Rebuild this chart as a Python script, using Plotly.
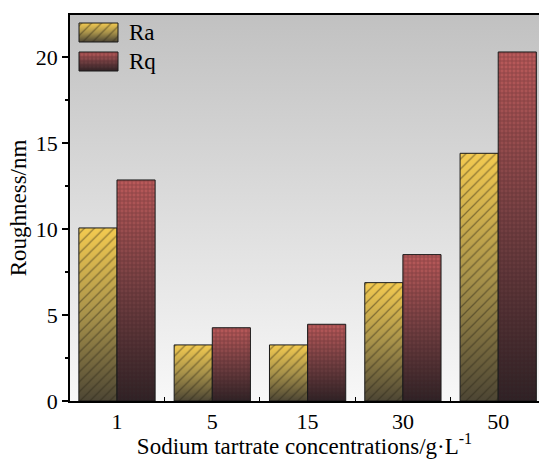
import plotly.graph_objects as go

categories = ["1", "5", "15", "30", "50"]
ra_values = [10.06, 3.26, 3.26, 6.88, 14.40]
rq_values = [12.85, 4.26, 4.46, 8.51, 20.29]
series_names = ["Ra", "Rq"]

FONT = "Liberation Serif"
BAR_W = 0.4
X_RANGE = [-0.493, 4.428]
Y_RANGE = [0, 22.44]

ra_scale = [[0, "#4d4634"], [0.5, "#a8924a"], [1, "#f3ca50"]]
rq_scale = [[0, "#2f2326"], [0.5, "#744042"], [1, "#bb5a5a"]]
RA_PAT = dict(shape="/", size=7, solidity=0.18, fgcolor="rgba(40,35,20,0.9)", bgcolor="rgba(0,0,0,0)")
RQ_PAT = dict(shape="+", size=4, solidity=0.4, fgcolor="rgba(50,20,25,0.6)", bgcolor="rgba(0,0,0,0)")

fig = go.Figure()

# plot-area background gradient
fig.add_trace(go.Scatter(
    x=[X_RANGE[0], X_RANGE[0], X_RANGE[1], X_RANGE[1], X_RANGE[0]],
    y=[Y_RANGE[0], Y_RANGE[1], Y_RANGE[1], Y_RANGE[0], Y_RANGE[0]],
    mode="none", fill="toself",
    fillgradient=dict(type="vertical", colorscale=[[0, "#f8f8f8"], [1, "#c1c1c1"]]),
    hoverinfo="skip", showlegend=False))


def rect(x0, x1, y0, y1):
    return [x0, x0, x1, x1, x0], [y0, y1, y1, y0, y0]


for i, cat in enumerate(categories):
    for vals, scale, pat, off in [
        (ra_values, ra_scale, RA_PAT, -BAR_W),
        (rq_values, rq_scale, RQ_PAT, 0.0),
    ]:
        xs, ys = rect(i + off, i + off + BAR_W, 0, vals[i])
        fig.add_trace(go.Scatter(
            x=xs, y=ys, mode="none", fill="toself",
            fillgradient=dict(type="vertical", colorscale=scale),
            hoverinfo="skip", showlegend=False))
        fig.add_trace(go.Scatter(
            x=xs, y=ys, mode="lines", fill="toself",
            line=dict(color="#1a1a1a", width=1),
            fillcolor="rgba(0,0,0,0)", fillpattern=pat,
            hoverinfo="skip", showlegend=False))

# manual legend on a pixel-unit overlay axis
legend_boxes = [(9, 48, 359, 378), (9, 48, 330, 349)]
for (x0, x1, y0, y1), scale, pat, name in zip(
        legend_boxes, [ra_scale, rq_scale], [RA_PAT, RQ_PAT], series_names):
    xs, ys = rect(x0, x1, y0, y1)
    fig.add_trace(go.Scatter(x=xs, y=ys, xaxis="x2", yaxis="y2", mode="none", fill="toself",
                             fillgradient=dict(type="vertical", colorscale=scale),
                             hoverinfo="skip", showlegend=False))
    fig.add_trace(go.Scatter(x=xs, y=ys, xaxis="x2", yaxis="y2", mode="lines", fill="toself",
                             line=dict(color="#1a1a1a", width=1), fillcolor="rgba(0,0,0,0)",
                             fillpattern=pat, hoverinfo="skip", showlegend=False))
    fig.add_annotation(x=x1 + 9, y=(y0 + y1) / 2, xref="x2", yref="y2", text=name,
                       showarrow=False, xanchor="left", yanchor="middle",
                       font=dict(family=FONT, size=23, color="black"))

fig.update_layout(
    width=539, height=459,
    margin=dict(l=70, r=0, t=15, b=58),
    paper_bgcolor="white", plot_bgcolor="rgba(0,0,0,0)",
    showlegend=False,
    font=dict(family=FONT, size=22, color="black"),
    xaxis=dict(range=X_RANGE, tickvals=list(range(len(categories))), ticktext=categories,
               showgrid=False, zeroline=False, showline=True, linecolor="black", linewidth=1.5,
               mirror=True, ticks="inside", ticklen=0,
               minor=dict(ticks="inside", ticklen=4, tickcolor="black", tick0=0.5, dtick=1),
               title=dict(text="Sodium tartrate concentrations/g·L<sup>-1</sup>",
                          font=dict(family=FONT, size=23), standoff=3),
               tickfont=dict(family=FONT, size=22)),
    yaxis=dict(range=Y_RANGE, tickvals=[0, 5, 10, 15, 20], showgrid=False, zeroline=False,
               showline=True, linecolor="black", linewidth=1.5, ticks="outside", ticklen=6,
               tickcolor="black", tickwidth=1.5,
               minor=dict(ticks="outside", ticklen=3, tickcolor="black", dtick=2.5, tick0=0),
               title=dict(text="Roughness/nm", font=dict(family=FONT, size=23), standoff=3),
               tickfont=dict(family=FONT, size=22)),
    xaxis2=dict(range=[0, 469], overlaying="x", visible=False, fixedrange=True),
    yaxis2=dict(range=[0, 386], overlaying="y", visible=False, fixedrange=True),
)

fig.write_html("out.html", config={"displayModeBar": False},
               post_script="document.body.style.margin='0';")
